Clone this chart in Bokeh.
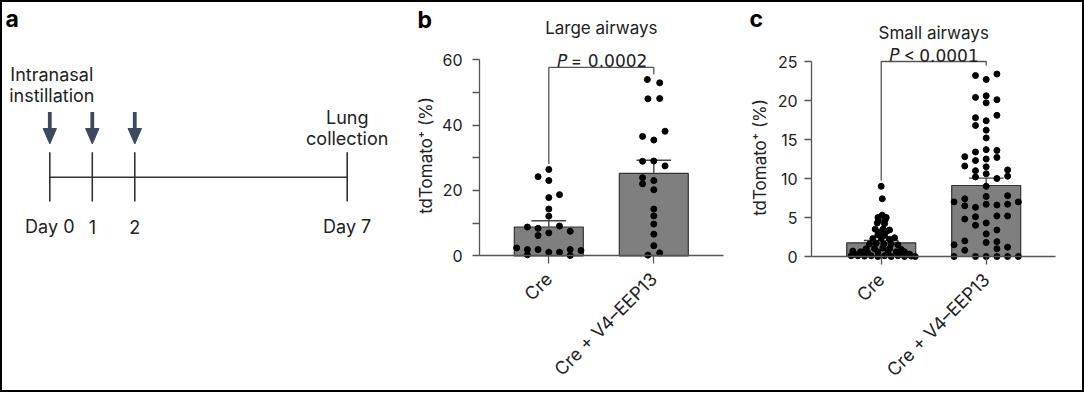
import math
from bokeh.plotting import figure
from bokeh.layouts import row
from bokeh.models import Range1d, FixedTicker, Label
from bokeh.core.properties import value
from bokeh.embed import file_html
from bokeh.resources import INLINE

# ---------------- data ----------------
categories = ["Cre", "Cre + V4–EEP13"]

timeline_days = [0, 1, 2, 7]
timeline_labels = ["Day 0", "1", "2", "Day 7"]
instillation_days = [0, 1, 2]

# Large airways (panel b): values (%) and swarm column of each dot
large_cre = [26.4, 24.2, 23.0, 18.7, 17.8, 14.3, 12.1, 8.8, 8.4, 9.1, 7.0, 6.2, 7.5,
             2.4, 1.9, 1.9, 1.1, 1.1, 1.9, 1.6, 0.3, 0.1]
large_cre_col = [0, -1, 0, 1, 0, 0, 0, -2, -1, 1, 0, -1, 2,
                 -3, -2, -1, 0, 1, 2, 3, -2, 2]
large_v4 = [53.9, 52.9, 48.0, 48.1, 38.1, 36.5, 35.4, 28.9, 29.0, 27.5, 23.9, 22.0,
            23.0, 20.2, 14.3, 12.2, 9.7, 6.6, 3.1, 0.2, 0.9]
large_v4_col = [-0.6, 0.55, -0.55, 0.55, 1.05, -1.05, 0, -1.05, 0, 1.05, -1.05, -1.05,
                0, 0, 0, 0, 0, 0, 0, -0.55, 0.55]
large_mean = [8.8, 25.2]
large_sem = [1.9, 4.0]
large_p = ["=", "0.0002"]

# Small airways (panel c)
small_cre = [9.0, 7.4, 5.3, 5.0, 5.0, 4.6, 4.7, 4.3, 4.2,
             3.5, 3.5, 3.4, 3.1, 3.2,
             2.8, 2.7, 2.3, 2.3, 2.2, 2.4,
             1.6, 1.7, 1.6, 1.6, 1.5,
             1.0, 1.0, 1.1, 1.0, 0.9,
             0.7, 0.6, 0.5, 0.6, 0.5, 0.6, 0.6,
             0.1, 0.1, 0.05, 0.1, 0.0, 0.1, 0.0, 0.1, 0.0, 0.05, 0.0, 0.3, 0.3, 0.3]
small_cre_col = [0, 0.1, 0.1, -0.3, 0.47, -0.25, 0.37, -0.37, 0.31,
                 -0.56, 0.16, 0.78, -0.16, 0.47,
                 -0.31, 0.31, -0.78, 0, 0.78, 1.25,
                 -1.09, -0.47, 0.25, 0.93, 1.56,
                 -1.4, -0.62, 0.16, 0.78, 1.87,
                 -2.65, -1.93, -1.25, -0.31, 0.62, 1.4, 2.18,
                 -2.8, -2.18, -1.56, -0.93, -0.31, 0.31, 0.93, 1.56, 2.18, 2.8, 3.18, -2.5, 1.87, 2.65]
small_v4 = [23.2, 22.7, 23.4,
            20.4, 20.6, 19.7, 20.1,
            17.8, 16.8, 17.4, 18.1, 16.2, 15.2,
            12.8, 11.6, 13.4, 12.3, 13.7, 12.5, 13.6, 12.7,
            11.0, 11.5, 10.6, 10.2, 11.1, 10.3, 10.0,
            9.0,
            7.0, 7.4, 6.5, 6.3, 7.7, 6.7, 6.6, 7.8, 6.7, 7.0,
            4.8, 5.1, 4.0, 4.3, 2.9, 5.2, 3.4, 5.2,
            1.5, 2.0, 0.8, 1.8, 1.9, 1.0, 1.2,
            0.0, 0.0, 0.0, 0.0, 0.0, 0.0]
small_v4_col = [-1, 0, 1,
                -1, 0, 0, 1,
                -1, -1, 0, 1, 0, 0,
                -2, -2, -1, -1, 0, 0, 1, 1,
                -1, 0, 0, -1, 2, 2, 1,
                0,
                -3, -2, -2, -1, 0, 0, 1, 2, 2, 3,
                -2, -1, -1, 0, 0, 1, 1, 2,
                -3, -2, -2, 0, 1, 1, 2,
                -3, -1, 0, 1, 2, 3]
small_mean = [1.75, 9.1]
small_sem = [0.3, 0.95]
small_p = ["<", "0.0001"]

# ---------------- style ----------------
FONT = "Inter"
NUM_FONT = "DejaVu Sans"
TXT = "#222222"
AX = "#555555"
DOT_STEP = 0.102          # swarm column spacing in category units
BAR_W = 0.657
CAP_HALF = 0.165
H = 388                   # figure height (px)


def label(p, x, y, text, size="17px", style="normal", align="center", baseline="alphabetic",
          angle=0.0, color=TXT, font=FONT):
    p.add_layout(Label(x=x, y=y, text=text, text_font=font, text_font_size=size,
                       text_font_style=style, text_color=color, text_align=align,
                       text_baseline=baseline, angle=angle))


def bar_panel(width, xr, yr, yticks, blank, yaxis_x, ytop, xaxis_end, vals, cols, means, sems,
              bracket, title, title_y, p_parts, p_y, p_xs, ylab_xy, panel_xy, letter, ystand):
    p = figure(width=width, height=H, x_range=Range1d(*xr), y_range=Range1d(*yr),
               output_backend="svg", toolbar_location=None, min_border=0)
    p.grid.visible = False
    p.outline_line_color = None
    xs = list(range(len(categories)))

    # bars
    p.vbar(x=xs, top=means, width=BAR_W, bottom=0, fill_color="#7f7f7f",
           line_color="#333333", line_width=1.2)
    # error bars (mean + s.e.m.)
    tops = [mm + s for mm, s in zip(means, sems)]
    p.segment(x0=xs, y0=means, x1=xs, y1=tops, line_color="#444444", line_width=1.4)
    p.segment(x0=[x - CAP_HALF for x in xs], y0=tops, x1=[x + CAP_HALF for x in xs], y1=tops,
              line_color="#444444", line_width=1.4)
    # dots
    for i, (v, c) in enumerate(zip(vals, cols)):
        p.scatter(x=[i + cc * DOT_STEP for cc in c], y=v, size=6, color="black")

    # significance bracket
    yb, yl, yr_ = bracket
    p.line(x=[0, 0, 1, 1], y=[yl, yb, yb, yr_], line_color=AX, line_width=1.3)

    xa = p.xaxis[0]
    xa.fixed_location = 0
    xa.bounds = (yaxis_x, xaxis_end)
    xa.ticker = FixedTicker(ticks=xs)
    xa.major_label_overrides = {i: c for i, c in enumerate(categories)}
    xa.major_label_orientation = math.pi / 4
    xa.axis_line_color = AX
    xa.axis_line_width = 1.3
    xa.major_tick_in = 0
    xa.major_tick_out = 8
    xa.major_tick_line_color = AX
    xa.major_tick_line_width = 1.3
    xa.minor_tick_line_color = None
    xa.major_label_text_font = FONT
    xa.major_label_text_font_size = "18px"
    xa.major_label_text_color = TXT
    xa.major_label_standoff = 12

    ya = p.yaxis[0]
    ya.fixed_location = yaxis_x
    ya.ticker = FixedTicker(ticks=yticks)
    ya.major_label_overrides = {t: "" for t in blank}
    ya.bounds = (0, ytop)
    ya.axis_line_color = AX
    ya.axis_line_width = 1.3
    ya.major_tick_in = 0
    ya.major_tick_out = 7
    ya.major_tick_line_color = AX
    ya.major_tick_line_width = 1.3
    ya.minor_tick_line_color = None
    ya.major_label_text_font = FONT
    ya.major_label_text_font_size = "16px"
    ya.major_label_text_color = TXT
    ya.major_label_standoff = ystand

    # texts
    label(p, 0.5, title_y, title)
    label(p, p_xs[0], p_y, "P", size="17px", style="italic", align="right", font=NUM_FONT)
    label(p, p_xs[1], p_y, p_parts[0], size="17px", align="left", font=FONT)
    label(p, p_xs[2], p_y, p_parts[1], size="17px", align="left", font=NUM_FONT)
    label(p, ylab_xy[0], ylab_xy[1], "tdTomato⁺ (%)", baseline="middle", angle=math.pi / 2)
    label(p, panel_xy[0], panel_xy[1], letter, size="23px", style="bold", align="left",
          color="black")
    return p


# ---------------- panel a: timeline ----------------
k = (346.7 - 49.3) / 7.0           # px per day in the schematic
WA = 403
x0 = -(49.3 - 2) / k
pa = figure(width=WA, height=H, x_range=Range1d(x0, x0 + WA / k), y_range=Range1d(2 + H, 2),
            output_backend="svg", toolbar_location=None, x_axis_location=None,
            y_axis_location=None, min_border=0)
pa.grid.visible = False
pa.outline_line_color = None

first, last = timeline_days[0], timeline_days[-1]
n = len(timeline_days)
pa.segment(x0=[first], y0=[176.7], x1=[last], y1=[176.7], line_color="#333333", line_width=1.6)
pa.segment(x0=timeline_days, y0=[151.7] * n, x1=timeline_days, y1=[201] * n,
           line_color="#333333", line_width=1.6)

ARROW = "#3d4a5e"
hw = 6.7 / k
m = len(instillation_days)
pa.segment(x0=instillation_days, y0=[111.5] * m, x1=instillation_days, y1=[130] * m,
           line_color=ARROW, line_width=3.8)
pa.patches(xs=[[d - hw, d + hw, d] for d in instillation_days],
           ys=[[128, 128, 143.5]] * m, fill_color=ARROW, line_color=ARROW)

pa.text(x=timeline_days, y=[226] * n, text=timeline_labels, text_font=value(FONT),
        text_font_size="18px", text_color=TXT, text_align="center", text_baseline="alphabetic")
pa.text(x=[first + 2 / k] * 2, y=[74, 95], text=["Intranasal", "instillation"],
        text_font=value(FONT), text_font_size="18px", text_color=TXT, text_align="center",
        text_baseline="alphabetic")
pa.text(x=[last] * 2, y=[116.7, 138.3], text=["Lung", "collection"], text_font=value(FONT),
        text_font_size="18px", text_color=TXT, text_align="center", text_baseline="alphabetic")
label(pa, (5 - 49.3) / k, 18, "a", size="23px", style="bold", align="left", color="black")

# ---------------- panel b ----------------
sb = 3.27                          # px per % (panel b)
x0b = -(548.3 - 405) / 105
pb = bar_panel(325, (x0b, x0b + 325 / 105), ((255.3 - 2 - H) / sb, (255.3 - 2) / sb),
               [0, 10, 20, 30, 40, 50, 60], [10, 30, 50], -0.66, 60, 1.664,
               [large_cre, large_v4], [large_cre_col, large_v4_col],
               large_mean, large_sem, (57.6, 28.1, 55.5), "Large airways", 69.6,
               large_p, 59.7, (0.175, 0.21, 0.372), (-1.165, 30.7), (-1.25, 71.96), "b", 10)

# ---------------- panel c ----------------
sc = 7.8                           # px per % (panel c)
x0c = -(880.7 - 730) / 105
pc = bar_panel(352, (x0c, x0c + 352 / 105), ((256 - 2 - H) / sc, (256 - 2) / sc),
               [0, 5, 10, 15, 20, 25], [], -0.6638, 25, 1.66,
               [small_cre, small_v4], [small_cre_col, small_v4_col],
               small_mean, small_sem, (25.0, 9.75, 24.5), "Small airways", 28.68,
               small_p, 25.77, (0.174, 0.215, 0.362), (-1.15, 12.7), (-1.254, 30.51), "c", 7)

layout = row(pa, pb, pc, styles={"border": "2px solid black"})
open("out.html", "w").write(file_html(layout, INLINE))
